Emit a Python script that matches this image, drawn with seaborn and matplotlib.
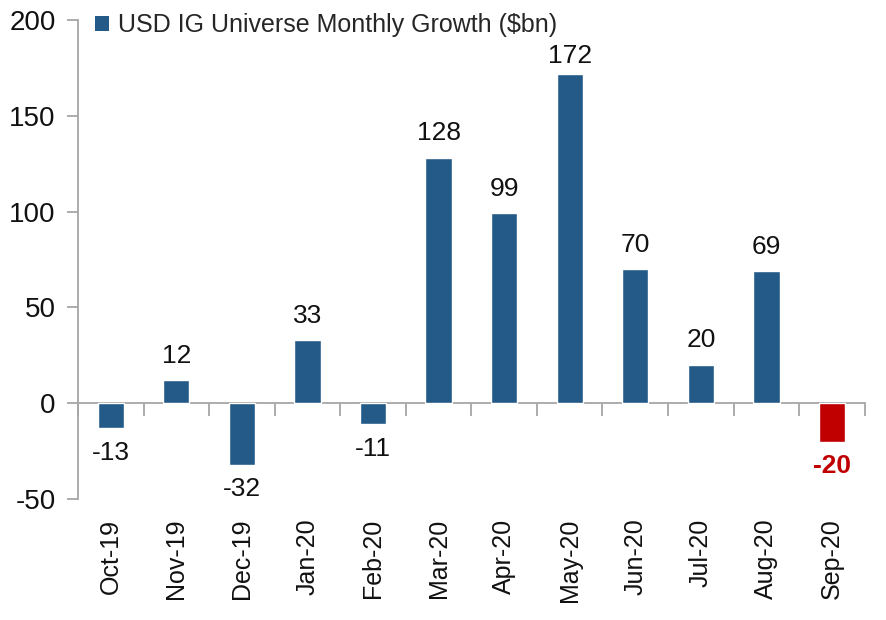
import matplotlib
matplotlib.use("Agg")
import matplotlib.pyplot as plt
import seaborn as sns
import pandas as pd
from matplotlib.patches import Patch

# chart data
months = ["Oct-19", "Nov-19", "Dec-19", "Jan-20", "Feb-20", "Mar-20",
          "Apr-20", "May-20", "Jun-20", "Jul-20", "Aug-20", "Sep-20"]
growth = [-13, 12, -32, 33, -11, 128, 99, 172, 70, 20, 69, -20]
series_name = "USD IG Universe Monthly Growth ($bn)"

BLUE = "#245A88"
RED = "#C00000"
GREY = "#A6A6A6"
TEXT = "#111111"

sns.set_theme(style="white")
plt.rcParams['font.family'] = ['Liberation Sans', 'DejaVu Sans']
plt.rcParams['axes.unicode_minus'] = False

df = pd.DataFrame({"month": months, "growth": growth})
colors = [BLUE] * (len(months) - 1) + [RED]

fig = plt.figure(figsize=(8.86, 6.2), dpi=100)
ax = fig.add_axes([0.088, 0.195, 0.888, 0.773])

sns.barplot(data=df, x="month", y="growth", hue="month", palette=colors,
            legend=False, width=0.4, saturation=1, ax=ax)

ymin, ymax = -50, 200
ax.set_ylim(ymin, ymax)
ax.set_xlim(-0.5, len(months) - 0.5)
ax.set_yticks(range(-50, 201, 50))
ax.set_xlabel("")
ax.set_ylabel("")

for s in ["top", "right", "bottom"]:
    ax.spines[s].set_visible(False)
ax.spines["left"].set_color(GREY)
ax.spines["left"].set_linewidth(1.3)

ax.tick_params(axis="y", which="major", left=True, length=8, width=1.3,
               color=GREY, labelsize=20, labelcolor=TEXT, pad=8)
ax.tick_params(axis="x", length=0, labelsize=18, labelcolor=TEXT,
               pad=14, labelrotation=90)

# zero line with boundary ticks
zero_frac = (0 - ymin) / (ymax - ymin)
sec = ax.secondary_xaxis(zero_frac)
sec.set_xticks([i - 0.5 for i in range(len(months) + 1)])
sec.tick_params(axis="x", length=9, width=1.3, color=GREY, labelbottom=False)
sec.spines["bottom"].set_color(GREY)
sec.spines["bottom"].set_linewidth(1.3)

# value labels (labels near the top get pushed down, like Excel does)
label_gap = 6.5
label_cap = 175
for i, v in enumerate(growth):
    last = i == len(growth) - 1
    if v >= 0:
        ax.text(i, min(v + label_gap, label_cap), f"{v}", ha="center",
                va="bottom", fontsize=19, color=TEXT)
    else:
        ax.text(i, v - label_gap, f"{v}", ha="center", va="top", fontsize=19,
                color=RED if last else TEXT,
                fontweight="bold" if last else "normal")

handle = Patch(facecolor=BLUE, edgecolor="none")
ax.legend([handle], [series_name], loc="upper left", bbox_to_anchor=(0.0, 1.05),
          frameon=False, fontsize=18, handlelength=0.55, handleheight=0.55,
          handletextpad=0.35, borderaxespad=0.3)

fig.savefig("out.png", dpi=100)
